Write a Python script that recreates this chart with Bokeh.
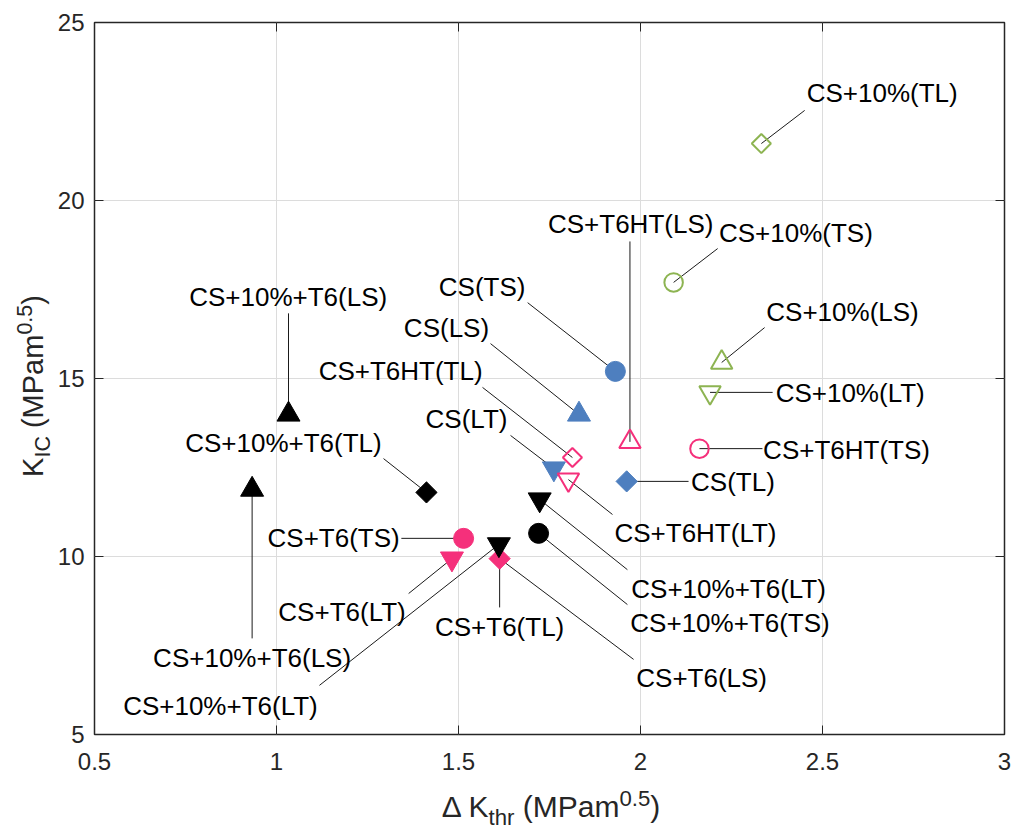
import numpy as np
from bokeh.plotting import figure
from bokeh.models import (ColumnDataSource, Range1d, FixedTicker, LinearAxis, Div,
                          CustomJSTickFormatter)
from bokeh.layouts import row, column
from bokeh.core.properties import value
from bokeh.embed import file_html
from bokeh.resources import INLINE

# ---------------- data ----------------
series = ["CS+10%", "CS+10%", "CS+10%", "CS+10%",
          "CS", "CS", "CS", "CS",
          "CS+T6HT", "CS+T6HT", "CS+T6HT", "CS+T6HT",
          "CS+T6", "CS+T6", "CS+T6",
          "CS+10%+T6", "CS+10%+T6", "CS+10%+T6", "CS+10%+T6", "CS+10%+T6", "CS+10%+T6"]
orient = ["TL", "TS", "LS", "LT",
          "TS", "LS", "TL", "LT",
          "TS", "LS", "TL", "LT",
          "TS", "LT", "TL",
          "LS", "LS", "TL", "LT", "TS", "LT"]
dk_thr = [2.332, 2.091, 2.223, 2.191,
          1.931, 1.831, 1.962, 1.762,
          2.162, 1.971, 1.813, 1.802,
          1.514, 1.482, 1.613,
          1.033, 0.933, 1.412, 1.723, 1.720, 1.611]
k_ic = [21.60, 17.70, 15.45, 14.61,
        15.20, 13.99, 12.11, 12.47,
        13.03, 13.22, 12.78, 12.16,
        10.51, 9.94, 9.94,
        13.99, 11.88, 11.80, 11.60, 10.65, 10.34]

label_text = ["CS+10%(TL)", "CS+10%(TS)", "CS+10%(LS)", "CS+10%(LT)",
              "CS+T6HT(TS)", "CS+T6HT(LS)", "CS(TS)", "CS(LS)",
              "CS+T6HT(TL)", "CS(LT)", "CS(TL)", "CS+T6HT(LT)",
              "CS+10%+T6(LT)", "CS+10%+T6(TS)", "CS+T6(TL)", "CS+T6(LS)",
              "CS+10%+T6(LS)", "CS+10%+T6(TL)", "CS+T6(TS)", "CS+T6(LT)",
              "CS+10%+T6(LS)", "CS+10%+T6(LT)"]
label_target = [0, 1, 2, 3,
                8, 9, 4, 5,
                10, 7, 6, 11,
                18, 19, 14, 14,
                15, 17, 12, 13,
                16, 20]

x_ticks = [0.5, 1, 1.5, 2, 2.5, 3]
x_tick_labels = ["0.5", "1", "1.5", "2", "2.5", "3"]
y_ticks = [5, 10, 15, 20, 25]
y_tick_labels = ["5", "10", "15", "20", "25"]

x_title_html = "\u0394 K<sub>thr</sub> (MPam<sup>0.5</sup>)"
y_title_html = "K<sub>IC</sub> (MPam<sup>0.5</sup>)"

# ---------------- layout of annotations (data units) ----------------
label_pos_x = [2.664, 2.427, 2.555, 2.576,
               2.566, 1.973, 1.565, 1.467,
               1.341, 1.522, 2.254, 2.151,
               2.242, 2.246, 1.613, 2.168,
               1.032, 1.019, 1.157, 1.180,
               0.933, 0.846]
label_pos_y = [23.01, 19.10, 16.88, 14.58,
               12.98, 19.33, 17.58, 16.43,
               15.20, 13.85, 12.08, 10.65,
               9.10, 8.12, 8.01, 6.60,
               17.28, 13.20, 10.53, 8.43,
               7.16, 5.81]
leader_end_x = [2.451, 2.212, 2.341, 2.363,
                2.335, 1.971, 1.690, 1.588,
                1.566, 1.643, 2.132, 1.923,
                1.964, 1.964, 1.613, 1.981,
                1.033, 1.294, 1.343, 1.363,
                0.933, 1.118]
leader_end_y = [22.53, 18.65, 16.43, 14.61,
                13.03, 18.85, 17.13, 15.98,
                14.75, 13.40, 12.11, 11.18,
                9.63, 8.65, 8.57, 7.11,
                16.83, 12.75, 10.51, 8.96,
                7.70, 6.38]

# ---------------- styles ----------------
COLOR = {"CS": "#4E7FBF", "CS+T6HT": "#F5307B", "CS+10%": "#8DB452",
         "CS+10%+T6": "#000000", "CS+T6": "#F5307B"}
FILLED = {"CS": True, "CS+T6HT": False, "CS+10%": False, "CS+10%+T6": True, "CS+T6": True}
MARKER = {"TS": "circle", "LS": "triangle", "TL": "square", "LT": "inverted_triangle"}
SIZE = {"TS": 20, "LS": 23, "TL": 15, "LT": 23}
ANGLE = {"TS": 0.0, "LS": 0.0, "TL": np.pi / 4, "LT": 0.0}
FONT = "Liberation Sans"
AXCOL = "#262626"

pts = ColumnDataSource(dict(
    x=dk_thr, y=k_ic,
    marker=[MARKER[o] for o in orient],
    color=[COLOR[s] for s in series],
    falpha=[1.0 if FILLED[s] else 0.0 for s in series],
    lw=[1.0 if FILLED[s] else 2.0 for s in series],
    size=[(SIZE[o] if FILLED[s] else SIZE[o] - 1.5) for s, o in zip(series, orient)],
    angle=[ANGLE[o] for o in orient],
))

leaders = ColumnDataSource(dict(
    x0=[dk_thr[i] for i in label_target], y0=[k_ic[i] for i in label_target],
    x1=leader_end_x, y1=leader_end_y))

labels = ColumnDataSource(dict(x=label_pos_x, y=label_pos_y, text=label_text))

YDIV_W = 50
XDIV_H = 50
p = figure(width=1012 - YDIV_W, height=829 - XDIV_H, output_backend="svg", toolbar_location=None,
           x_range=Range1d(0.5, 3), y_range=Range1d(5, 25),
           min_border_left=94 - YDIV_W, min_border_right=8, min_border_top=22,
           min_border_bottom=95 - XDIV_H)
p.background_fill_color = "white"
p.border_fill_color = "white"
p.outline_line_color = AXCOL
p.outline_line_width = 1.5

for ax, ticks, labs in ((p.xaxis[0], x_ticks, x_tick_labels), (p.yaxis[0], y_ticks, y_tick_labels)):
    ax.ticker = FixedTicker(ticks=ticks)
    ax.major_label_overrides = dict(zip(ticks, labs))
    ax.axis_line_color = None
    ax.major_tick_in = 9
    ax.major_tick_out = 0
    ax.major_tick_line_color = AXCOL
    ax.minor_tick_line_color = None
    ax.major_label_text_font = FONT
    ax.major_label_text_font_size = "24px"
    ax.major_label_text_color = AXCOL
p.xaxis.major_label_standoff = 18
p.yaxis.major_label_standoff = 10

blank = CustomJSTickFormatter(code="return ''")
p.add_layout(LinearAxis(ticker=FixedTicker(ticks=y_ticks), formatter=blank, axis_line_color=None,
                        major_tick_in=9, major_tick_out=0, minor_tick_line_color=None,
                        major_tick_line_color=AXCOL, major_label_standoff=0), "right")
p.add_layout(LinearAxis(ticker=FixedTicker(ticks=x_ticks), formatter=blank, axis_line_color=None,
                        major_tick_in=9, major_tick_out=0, minor_tick_line_color=None,
                        major_tick_line_color=AXCOL, major_label_standoff=0), "above")

p.grid.grid_line_color = "#dcdcdc"
p.grid.grid_line_width = 1

p.segment(x0="x0", y0="y0", x1="x1", y1="y1", source=leaders, line_color="#1a1a1a", line_width=1)
p.scatter(x="x", y="y", marker="marker", size="size", angle="angle", source=pts,
          fill_color="color", fill_alpha="falpha", line_color="color", line_width="lw")
p.text(x="x", y="y", text="text", source=labels, text_align="center", text_baseline="middle",
       text_font=value(FONT), text_font_size=value("26px"), text_color="black")

# ---------------- axis titles (HTML, with sub/superscripts) ----------------
TXT = ("position:absolute;left:0;top:0;white-space:nowrap;font-family:'Liberation Sans',Arial,sans-serif;"
       "line-height:1;color:%s;" % AXCOL)
SUBSUP = ("<style>sub,sup{font-size:0.74em;line-height:0;} sub{vertical-align:-0.35em;} "
          "sup{vertical-align:0.5em;}</style>")

ydiv = Div(width=YDIV_W, height=829, margin=0, text=(
    SUBSUP +
    '<div style="position:relative;width:%dpx;height:829px;">'
    '<div style="position:absolute;left:33px;top:386px;width:0;height:0;">'
    '<span style="%sfont-size:29px;transform:translate(-50%%,-50%%) rotate(-90deg);">%s</span>'
    '</div></div>' % (YDIV_W, TXT, y_title_html)))

xdiv = Div(width=1012 - YDIV_W, height=XDIV_H, margin=0, text=(
    SUBSUP +
    '<div style="position:relative;width:%dpx;height:%dpx;">'
    '<div style="position:absolute;left:%dpx;top:28px;width:0;height:0;">'
    '<span style="%sfont-size:30px;transform:translate(-50%%,-50%%);">%s</span>'
    '</div></div>' % (1012 - YDIV_W, XDIV_H, 551 - YDIV_W, TXT, x_title_html)))

layout = row(ydiv, column(p, xdiv, spacing=0), spacing=0)

open("out.html", "w").write(file_html(layout, INLINE))
